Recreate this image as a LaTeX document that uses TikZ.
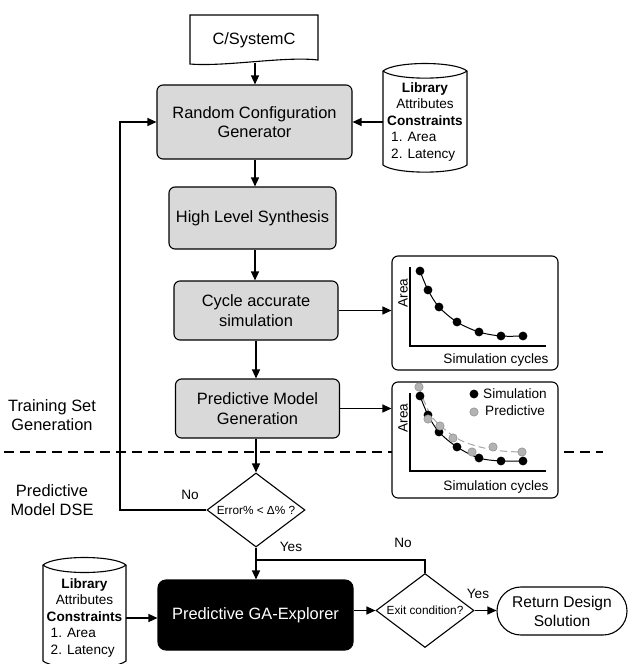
\documentclass[tikz,border=0pt]{standalone}
\usepackage{fontspec}
\setmainfont{Liberation Sans}
\usetikzlibrary{arrows.meta,shapes.geometric,calc}
\definecolor{procgray}{HTML}{D9D9D9}
\definecolor{predfill}{HTML}{B3B3B3}
\definecolor{preddraw}{HTML}{8C8C8C}
\definecolor{predline}{HTML}{A6A6A6}
\newcommand\fmain{\fontsize{16.4}{19.5}\selectfont}
\newcommand\fsmall{\fontsize{13.6}{16.5}\selectfont}
\newcommand\fdia{\fontsize{11.8}{14}\selectfont}
\newcommand\fret{\fontsize{15.6}{19}\selectfont}
\newcommand\libcontent{\begin{tabular}{@{}l@{}}\multicolumn{1}{@{}c@{}}{\textbf{Library}}\\ \multicolumn{1}{@{}c@{}}{Attributes}\\ \textbf{Constraints}\\ \hspace*{4pt}1. Area\\ \hspace*{4pt}2. Latency\end{tabular}}
\begin{document}
\begin{tikzpicture}[x=1pt,y=-1pt,
  proc/.style={draw=black, line width=1.1pt, fill=procgray, rounded corners=6pt,
    font=\fmain, align=center, inner sep=0pt},
  dec/.style={draw=black, line width=1.1pt, diamond, fill=white, font=\fdia,
    inner sep=0pt, minimum width=98pt, minimum height=74pt, aspect=1.32},
  conn/.style={line width=1.2pt, draw=black},
  arr/.style={conn, -{Triangle[length=9pt,width=8pt]}},
  lbl/.style={font=\fmain, align=center, inner sep=0pt},
  smalllbl/.style={font=\fsmall, inner sep=0pt},
  libnode/.style={font=\fsmall, inner sep=0pt, minimum width=84pt},
  chartbox/.style={draw=black, line width=1.1pt, fill=white, rounded corners=6pt, inner sep=0pt},
  axis/.style={line width=1.2pt, draw=black},
  curve/.style={line width=1pt, draw=black},
]
\useasboundingbox (0,0) rectangle (630,664);
\coordinate (sp) at (255,0);
\coordinate (lp) at (120,0);

% document shape
\draw[line width=1.1pt, fill=white] (190,15) -- (318,15) -- (318,60) .. controls (285,56) and (225,67) .. (190,64) -- cycle;
\node[lbl, minimum width=128pt, minimum height=46pt] (csys) at (254,40) {C/SystemC};

% process boxes
\node[proc, minimum width=195pt, minimum height=74pt] (rcg) at (254.5,122) {Random Configuration\\Generator};
\node[proc, minimum width=167pt, minimum height=62pt] (hls) at (252.5,218) {High Level Synthesis};
\node[proc, minimum width=164pt, minimum height=59pt] (cas) at (256,310.5) {Cycle accurate\\simulation};
\node[proc, minimum width=164pt, minimum height=59pt] (pmg) at (257.5,408.5) {Predictive Model\\Generation};

% top library cylinder
\draw[line width=1.1pt, fill=white] (383,71) .. controls (395,61) and (455,61) .. (467,71)
  -- (467,165) .. controls (455,174.5) and (395,174.5) .. (383,165) -- cycle;
\draw[line width=1.1pt] (383,71) .. controls (395,80.5) and (455,80.5) .. (467,71);
\node[libnode] (lib1) at (425,122) {\libcontent};

% bottom library cylinder
\draw[line width=1.1pt, fill=white] (43,565) .. controls (55,555) and (114,555) .. (126,565)
  -- (126,661) .. controls (114,670.5) and (55,670.5) .. (43,661) -- cycle;
\draw[line width=1.1pt] (43,565) .. controls (55,575) and (114,575) .. (126,565);
\node[libnode, minimum width=83pt] (lib2) at (84.5,618) {\libcontent};

% dashed separator
\draw[line width=1.2pt, dash pattern=on 10pt off 6pt] (4,452) -- (603,452);

% charts
\node[chartbox, minimum width=166pt, minimum height=114pt] (c1) at (475,313) {};
\node[chartbox, minimum width=166pt, minimum height=116pt] (c2) at (475,440) {};

% chart 1
\draw[axis] (410,267) -- (410,346) -- (546,346);
\node[smalllbl, rotate=90] (c1y) at (403,293) {Area};
\node[smalllbl] (c1x) at (496,360) {Simulation cycles};
\draw[curve] plot[smooth, tension=0.55] coordinates {(420,271) (428,290) (439,307) (457,322) (479,332) (501,336) (523,336)};
\foreach \p in {(420,271),(428,290),(439,307),(457,322),(479,332),(501,336),(523,336)}
  \fill \p circle (4.4pt);

% chart 2
\draw[axis] (410,393) -- (410,471) -- (546,471);
\node[smalllbl, rotate=90] (c2y) at (403,418) {Area};
\node[smalllbl] (c2x) at (496,487) {Simulation cycles};
\draw[line width=1pt, draw=predline, dash pattern=on 7pt off 4pt] plot[smooth, tension=0.55] coordinates {(419,388) (430,414) (443,428) (460,440) (480,447) (502,451) (523,452)};
\draw[curve] plot[smooth, tension=0.55] coordinates {(420,396) (428,415) (439,432) (457,447) (479,458) (501,461) (523,461)};
\foreach \p in {(420,396),(428,415),(439,432),(457,447),(479,458),(501,461),(523,461)}
  \fill \p circle (4.4pt);
\foreach \p in {(419,387),(428,419),(440,426),(453,438),(472,452),(493,447),(522,452)}
  \filldraw[fill=predfill, draw=preddraw, line width=0.5pt] \p circle (4.2pt);
\fill (474,394) circle (4.4pt);
\filldraw[fill=predfill, draw=preddraw, line width=0.5pt] (474,412) circle (4.2pt);
\node[smalllbl, anchor=west] (legs) at (483,394) {Simulation};
\node[smalllbl, anchor=west] (legp) at (485,411) {Predictive};

% side labels
\node[lbl] (tsg) at (52,415) {Training Set\\Generation};
\node[lbl] (pmd) at (52,500) {Predictive\\Model DSE};

% decisions
\node[dec] (err) at (256,510) {Error\% < Δ\% ?};
\node[draw=black, line width=1.1pt, fill=black, rounded corners=8pt, minimum width=195pt,
  minimum height=70pt, inner sep=0pt, text=white, font=\fmain] (ga) at (255.5,615) {Predictive GA-Explorer};
\node[dec] (exit) at (425,610.5) {Exit condition?};
\node[draw=black, line width=1.1pt, fill=white, rounded corners=23.9pt, minimum width=130pt,
  minimum height=48pt, inner sep=0pt, font=\fret, align=center] (ret) at (562,611) {Return Design\\Solution};

% connectors
\draw[arr] (csys.south -| sp) -- (rcg.north -| sp);
\draw[arr] (rcg.south -| sp) -- (hls.north -| sp);
\draw[arr] (hls.south -| sp) -- (cas.north -| sp);
\draw[arr] (cas.south -| err.north) -- (pmg.north -| err.north);
\draw[arr] (pmg.south -| err.north) -- (err.north);
\draw[arr] (lib1.west) -- (rcg.east);
\draw[arr] (cas.east) -- (cas.east -| c1.west);
\draw[arr] (pmg.east) -- (pmg.east -| c2.west);
\draw[arr] (err.west) -| (lp |- rcg.west) -- (rcg.west);
\draw[arr] (err.south) -- (err.south |- ga.north);
\coordinate (j) at (256,560);
\draw[conn] (exit.north) |- (j);
\draw[arr] (ga.east |- exit.west) -- (exit.west);
\draw[arr] (exit.east) -- (exit.east -| ret.west);
\draw[arr] (lib2.east) -- (lib2.east -| ga.west);

% connector labels
\node[smalllbl] (no1) at (190,495) {No};
\node[smalllbl] (yes1) at (291,547) {Yes};
\node[smalllbl] (no2) at (403,543) {No};
\node[smalllbl] (yes2) at (478,594) {Yes};
\end{tikzpicture}
\end{document}
